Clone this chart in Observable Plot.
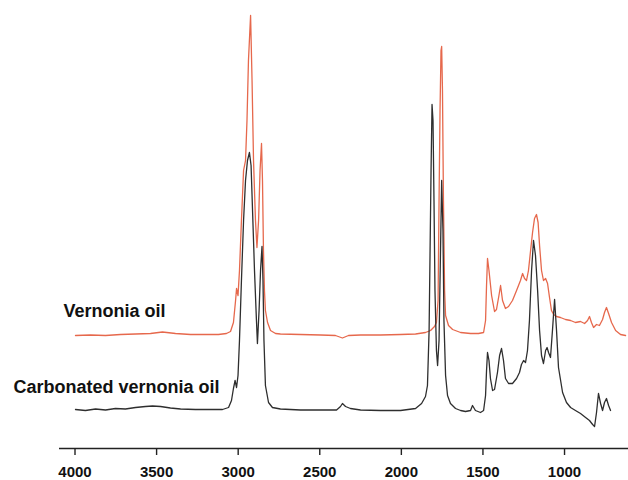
<!DOCTYPE html>
<html><head><meta charset="utf-8">
<script src="https://cdn.jsdelivr.net/npm/d3@7"></script>
<script src="https://cdn.jsdelivr.net/npm/@observablehq/plot@0.6"></script>
<style>
body{margin:0;background:#fff}
#chart svg text{font-weight:bold}
</style>
</head><body><div id="chart"></div>
<script>
// FTIR spectra, wavenumber (cm-1) vs absorbance (a.u., stacked as drawn)
const wnRed = [3997,3905,3813,3721,3629,3537,3464,3384,3292,3200,3121,3072,3047,3029,3016,3010,3001,2992,2980,2967,2955,2946,2937,2924,2915,2906,2894,2885,2875,2866,2857,2851,2845,2839,2833,2820,2802,2771,2741,2618,2495,2404,2361,2324,2250,2128,2005,1913,1852,1821,1797,1785,1775,1769,1763,1757,1753,1748,1742,1735,1729,1711,1686,1637,1576,1527,1496,1484,1478,1472,1463,1447,1429,1417,1402,1392,1380,1362,1343,1319,1294,1270,1257,1245,1233,1221,1208,1196,1184,1172,1162,1153,1141,1129,1116,1104,1092,1080,1067,1049,1025,994,963,933,902,877,859,847,835,822,804,786,767,755,743,730,712,687,657,626];
const absRed = [1.13,1.135,1.13,1.14,1.145,1.15,1.165,1.15,1.14,1.14,1.14,1.15,1.17,1.26,1.48,1.60,1.53,1.78,2.28,2.78,2.88,3.28,3.88,4.33,3.68,2.88,2.28,2.01,2.28,2.78,3.05,2.68,1.98,1.58,1.38,1.26,1.18,1.15,1.145,1.14,1.135,1.13,1.105,1.13,1.135,1.135,1.14,1.145,1.16,1.18,1.22,1.26,1.48,2.48,3.38,3.98,4.02,3.58,2.48,1.58,1.33,1.23,1.19,1.16,1.15,1.15,1.16,1.28,1.63,1.90,1.78,1.53,1.37,1.39,1.53,1.63,1.48,1.40,1.42,1.48,1.58,1.68,1.75,1.70,1.68,1.78,1.98,2.16,2.30,2.34,2.26,2.03,1.78,1.68,1.70,1.65,1.51,1.38,1.34,1.32,1.31,1.29,1.28,1.26,1.27,1.25,1.28,1.32,1.26,1.21,1.24,1.23,1.29,1.36,1.41,1.35,1.26,1.18,1.14,1.13];

const wnBlack = [3997,3936,3874,3813,3752,3691,3629,3568,3525,3476,3415,3353,3262,3170,3096,3059,3041,3029,3019,3010,3001,2992,2980,2967,2955,2943,2931,2921,2912,2900,2888,2882,2872,2863,2854,2848,2842,2833,2814,2790,2741,2618,2495,2397,2373,2361,2342,2312,2250,2128,2005,1913,1876,1852,1840,1830,1824,1818,1812,1806,1800,1794,1785,1778,1769,1760,1753,1745,1739,1729,1717,1699,1668,1637,1607,1576,1564,1546,1515,1496,1484,1478,1472,1463,1454,1441,1429,1411,1398,1386,1374,1362,1343,1319,1294,1276,1264,1251,1239,1227,1215,1202,1190,1178,1165,1153,1141,1129,1116,1107,1098,1086,1074,1061,1049,1037,1012,988,963,933,902,871,847,828,816,804,792,779,767,755,743,730,718];
const absBlack = [0.39,0.38,0.395,0.385,0.40,0.395,0.41,0.42,0.425,0.42,0.405,0.395,0.39,0.39,0.39,0.41,0.48,0.60,0.68,0.61,0.73,1.08,1.68,2.28,2.68,2.88,2.96,2.83,2.38,1.78,1.28,1.05,1.38,1.78,2.02,1.68,1.08,0.63,0.46,0.41,0.395,0.385,0.385,0.385,0.42,0.45,0.42,0.40,0.385,0.38,0.38,0.40,0.45,0.52,0.63,1.18,1.98,2.78,3.44,3.28,2.48,1.58,0.98,0.83,1.08,1.98,2.68,2.18,1.28,0.73,0.53,0.45,0.40,0.38,0.37,0.38,0.43,0.38,0.36,0.38,0.53,0.78,0.96,0.88,0.70,0.58,0.59,0.76,0.93,1.00,0.88,0.70,0.65,0.65,0.70,0.76,0.84,0.88,0.86,0.98,1.28,1.78,2.08,1.93,1.58,1.18,0.93,0.85,0.98,1.01,0.96,0.91,1.18,1.49,1.18,0.81,0.56,0.46,0.41,0.38,0.35,0.31,0.28,0.24,0.22,0.36,0.55,0.45,0.38,0.46,0.50,0.43,0.38];

const xTicks = [4000,3500,3000,2500,2000,1500,1000];

const labelText = ["Vernonia oil","Carbonated vernonia oil"];
const labelX = [4070,4377];
const labelY = [1.32,0.56];

const red = wnRed.map((w,i)=>({w, a: absRed[i]}));
const black = wnBlack.map((w,i)=>({w, a: absBlack[i]}));
const labels = labelText.map((t,i)=>({t, x: labelX[i], y: labelY[i]}));

const chart = Plot.plot({
  width: 628,
  height: 480,
  marginTop: 0,
  marginBottom: 32,
  marginLeft: 59,
  marginRight: 0,
  style: {fontFamily: "'Liberation Sans', Arial, Helvetica, sans-serif", background: "#fff", color: "#111"},
  x: {domain: [4095, 608], axis: null},
  y: {domain: [0, 4.48], axis: null},
  marks: [
    Plot.ruleY([0], {stroke: "#222", strokeWidth: 1.4}),
    Plot.axisX({ticks: xTicks, tickSize: 7, tickPadding: 11, fontSize: 15, fontWeight: "bold", tickFormat: d => String(d), stroke: "#222", strokeWidth: 1.4}),
    Plot.line(red, {x: "w", y: "a", stroke: "#e6684c", strokeWidth: 1.3}),
    Plot.line(black, {x: "w", y: "a", stroke: "#2e2e2e", strokeWidth: 1.3}),
    Plot.text(labels, {x: "x", y: "y", text: "t", textAnchor: "start", lineAnchor: "bottom", fontSize: 18, fontWeight: "bold", fill: "#111"})
  ]
});
document.getElementById("chart").appendChild(chart);
</script>
</body></html>
